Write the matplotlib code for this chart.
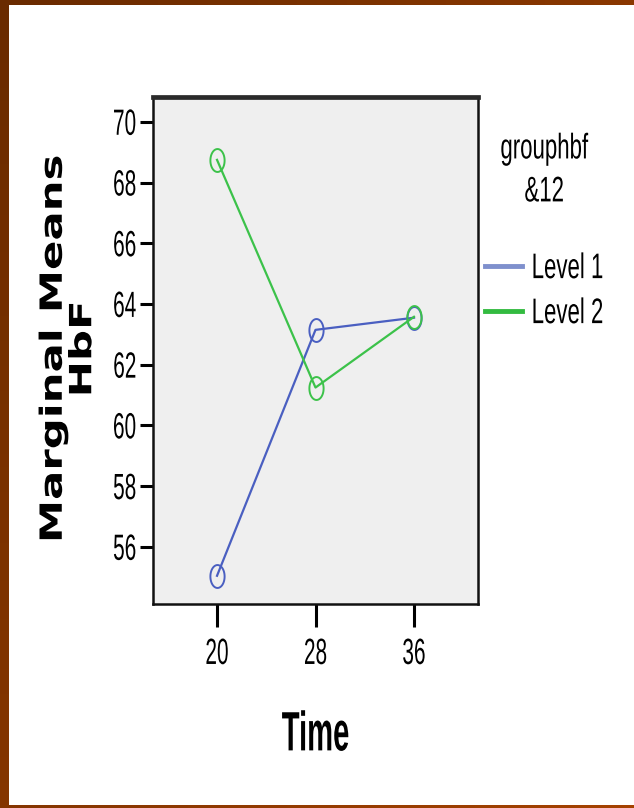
import matplotlib
matplotlib.use("Agg")
import matplotlib.pyplot as plt
import matplotlib.patches as patches
import matplotlib.patheffects as pe
from matplotlib.path import Path
from matplotlib.transforms import Affine2D
import numpy as np

# data
times = ["20", "28", "36"]
level1 = [55.05, 63.15, 63.55]
level2 = [68.75, 61.25, 63.58]
series_names = ["Level 1", "Level 2"]
y_ticks = [56, 58, 60, 62, 64, 66, 68, 70]

C_BLUE = '#4a5fc1'
C_GREEN = '#3cc24a'
C_BLUE_LEG = '#7f90cd'
C_GREEN_LEG = '#33bb40'
FONT = ['Liberation Sans', 'DejaVu Sans']


# the source export is squashed horizontally: stretch glyphs about their own centre
class Stretch(pe.AbstractPathEffect):
    def __init__(self, sx=1.0, sy=1.0):
        super().__init__()
        self.sx, self.sy = sx, sy

    def draw_path(self, renderer, gc, tpath, affine, rgbFace=None):
        ext = tpath.get_extents()
        cx, cy = ext.x0 + ext.width / 2, ext.y0 + ext.height / 2
        tr = Affine2D().translate(-cx, -cy).scale(self.sx, self.sy).translate(cx, cy) + affine
        renderer.draw_path(gc, tpath, tr, rgbFace)


TALL = [Stretch(1.0, 1.75)]

W, H = 634, 808
fig = plt.figure(figsize=(W / 100, H / 100), dpi=100)

# brown frame around the slide
bg = fig.add_axes([0, 0, 1, 1], zorder=-5)
gx, gy = np.meshgrid(np.linspace(0, 1, 64), np.linspace(0, 1, 64))
bg.imshow(0.55 * gx + 0.45 * gy, cmap=matplotlib.colors.LinearSegmentedColormap.from_list(
    'frame', ['#6a2b00', '#a54200']), extent=[0, W, H, 0], aspect='auto')
bg.add_patch(patches.Rectangle((9, 5), W - 9, H - 8, facecolor='white', edgecolor='none'))
bg.set_xlim(0, W)
bg.set_ylim(H, 0)
bg.axis('off')

ax = fig.add_axes([153 / W, 1 - 604 / H, (478 - 153) / W, (604 - 97) / H])
ax.set_facecolor('#efefef')

# vertically stretched circle marker, as in the original export
t = np.linspace(0, 2 * np.pi, 60)
ellipse = Path(np.column_stack([0.31 * np.cos(t), 0.5 * np.sin(t)]), closed=True)

for vals, col in [(level1, C_BLUE), (level2, C_GREEN)]:
    ax.plot(times, vals, color=col, lw=1.6, marker=ellipse, markersize=16.5,
            markerfacecolor='none', markeredgecolor=col, markeredgewidth=1.4)

ax.set_xlim(-0.65, 2.65)
ax.set_ylim(54.12, 70.82)
ax.set_yticks(y_ticks)

for s in ['left', 'right', 'bottom']:
    ax.spines[s].set_linewidth(1.8)
    ax.spines[s].set_color('#111111')
ax.spines['top'].set_linewidth(3.4)
ax.spines['top'].set_color('#2a2a2a')

ax.tick_params(axis='y', length=9.5, width=2.2, pad=2.5, labelsize=15)
ax.tick_params(axis='x', length=16.5, width=2.2, pad=12, labelsize=15)
for lab in ax.get_xticklabels() + ax.get_yticklabels():
    lab.set_family(FONT)
    lab.set_path_effects(TALL)

ax.set_xlabel("Time", fontsize=21, fontweight='bold', family=FONT, va='center',
              path_effects=[Stretch(1.0, 1.9)])
ax.xaxis.set_label_coords(0.5, (75 - 204) / 507)

fig.text(68 / W, 1 - 349 / H, "Marginal Means\nHbF", rotation=90, ha='center', va='center',
         fontsize=22, fontweight='bold', linespacing=1.02, family='DejaVu Sans',
         path_effects=[Stretch(1.42, 1.0)])

# legend
handles = [plt.Line2D([], [], color=C_BLUE_LEG, lw=3.5),
           plt.Line2D([], [], color=C_GREEN_LEG, lw=3.5)]
leg = fig.legend(handles, series_names, title="grouphbf\n&12", loc='upper left',
                 bbox_to_anchor=(465 / W, 1 - 119 / H), frameon=False,
                 handlelength=1.65, handletextpad=0.45, labelspacing=1.08,
                 prop={'family': FONT, 'size': 16})
for txt in leg.get_texts():
    txt.set_path_effects([Stretch(1.0, 1.6)])
title = leg.get_title()
title.set_family(FONT)
title.set_fontsize(16)
title.set_multialignment('center')
title.set_linespacing(2.3)
title.set_path_effects([Stretch(1.0, 1.6)])
leg._legend_box.sep = 40

fig.savefig("out.png", dpi=100)
